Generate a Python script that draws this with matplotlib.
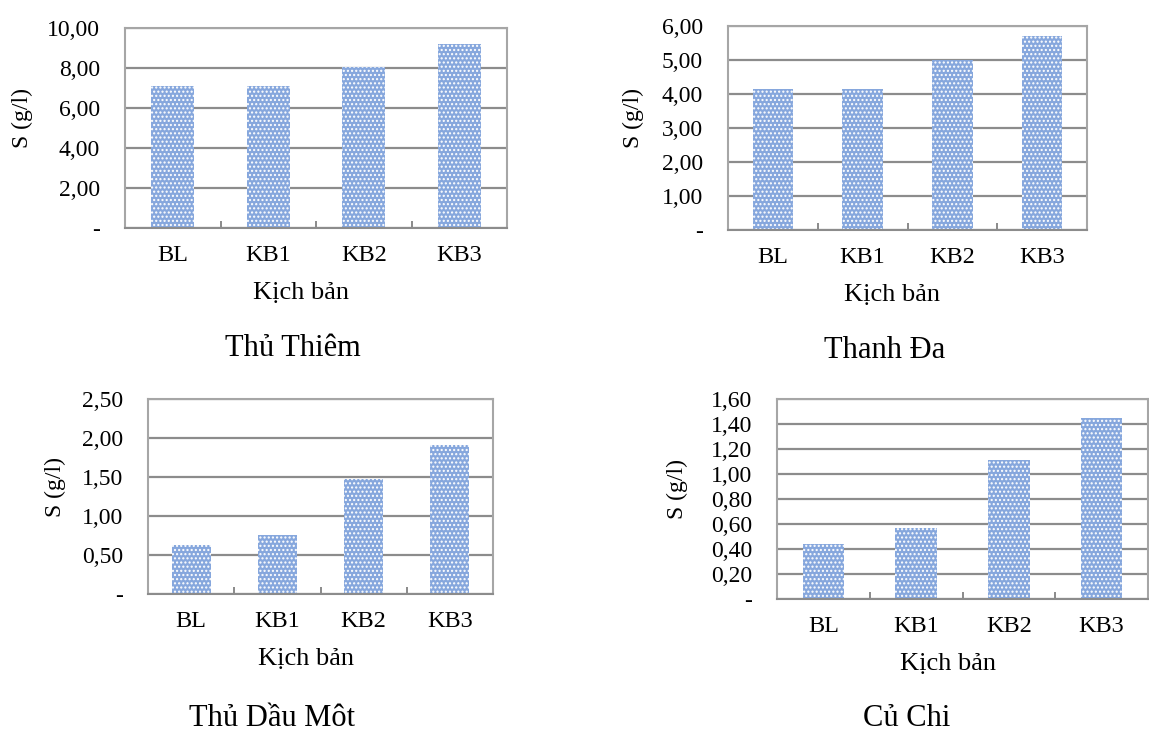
import matplotlib
matplotlib.use("Agg")
import matplotlib.pyplot as plt
from matplotlib.ticker import FixedLocator, FuncFormatter

plt.rcParams["font.family"] = ["Liberation Serif", "DejaVu Serif"]
plt.rcParams["hatch.linewidth"] = 1.0

W, H = 1149, 731

scenarios = ["BL", "KB1", "KB2", "KB3"]

thu_thiem = [7.10, 7.10, 8.05, 9.20]
thanh_da = [4.15, 4.15, 5.00, 5.70]
thu_dau_mot = [0.63, 0.76, 1.47, 1.91]
cu_chi = [0.44, 0.57, 1.11, 1.45]

station_names = ["Thủ Thiêm", "Thanh Đa", "Thủ Dầu Môt", "Củ Chi"]
y_max = [10.0, 6.0, 2.5, 1.6]
y_step = [2.0, 1.0, 0.5, 0.2]

# axes boxes in pixels: left, top, right, bottom
boxes = [
    (125, 28, 507, 228),
    (728, 26, 1087, 230),
    (148, 399, 493, 594),
    (777, 399, 1148, 599),
]
# title centres in pixels
title_pos = [(293, 349), (885, 350), (272, 718), (907, 718)]
# y label distance left of the axis, px
ylabel_off = [103, 95, 93, 100]

BAR = "#86a7dd"
GRID = "#8c8c8c"


def fmt(v, _pos):
    if abs(v) < 1e-9:
        return "-"
    return f"{v:.2f}".replace(".", ",")


def draw_panel(fig, box, values, ymax, step, name, tpos, yoff):
    l, t, r, b = box
    ax = fig.add_axes([l / W, (H - b) / H, (r - l) / W, (b - t) / H])
    x = range(len(scenarios))
    ax.bar(x, values, width=0.45, color=BAR, edgecolor="white",
           hatch="....", linewidth=0, zorder=2)

    ax.set_xlim(-0.5, len(scenarios) - 0.5)
    ax.set_ylim(0, ymax)
    n = int(round(ymax / step))
    ticks = [i * step for i in range(n + 1)]
    ax.yaxis.set_major_locator(FixedLocator(ticks))
    ax.yaxis.set_major_formatter(FuncFormatter(fmt))
    ax.grid(axis="y", color=GRID, linewidth=1.6, zorder=0)
    ax.set_axisbelow(True)

    ax.set_xticks(list(x))
    ax.set_xticklabels(scenarios)
    ax.set_xticks([i + 0.5 for i in range(len(scenarios) - 1)], minor=True)
    ax.tick_params(axis="x", which="major", length=0, pad=12, labelsize=17.5)
    ax.tick_params(axis="x", which="minor", direction="in", length=5,
                   width=1.2, color="#777777")
    ax.tick_params(axis="y", length=0, pad=18, labelsize=17)

    for sp in ax.spines.values():
        sp.set_color("#a6a6a6")
        sp.set_linewidth(1.5)
    ax.spines["bottom"].set_color("#8c8c8c")

    ax.set_xlabel("Kịch bản", fontsize=19, va="center")
    ax.xaxis.set_label_coords(0.5 - 15 / (r - l), -65 / (b - t))
    ax.set_ylabel("S (g/l)", fontsize=17, va="center")
    ax.yaxis.set_label_coords(-yoff / (r - l), 0.55)

    fig.text(tpos[0] / W, 1 - tpos[1] / H, name, fontsize=22,
             ha="center", va="center")


def main() -> None:
    fig = plt.figure(figsize=(W / 100, H / 100), dpi=100)
    series = [thu_thiem, thanh_da, thu_dau_mot, cu_chi]
    for box, vals, ym, st, nm, tp, yo in zip(boxes, series, y_max, y_step,
                                             station_names, title_pos,
                                             ylabel_off):
        draw_panel(fig, box, vals, ym, st, nm, tp, yo)
    fig.savefig("out.png", dpi=100)


if __name__ == "__main__":
    main()
